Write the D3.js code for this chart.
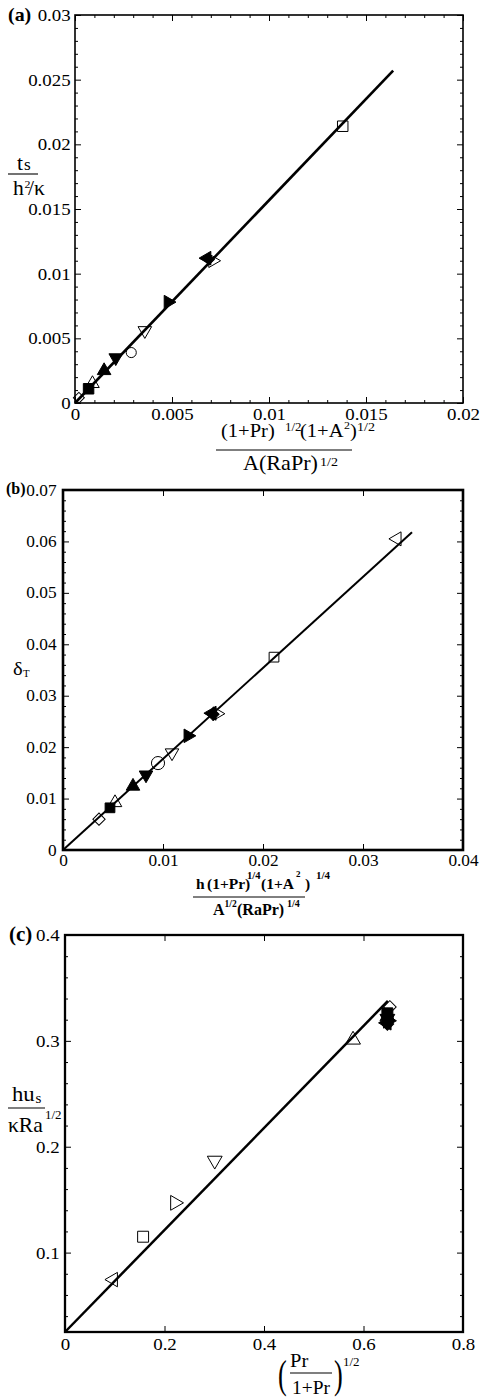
<!DOCTYPE html>
<html><head><meta charset="utf-8">
<script src="https://cdn.jsdelivr.net/npm/d3@7"></script>
<style>body{margin:0;background:#fff} svg{display:block}</style>
</head><body>
<svg id="c" width="480" height="1398"></svg>
<script>
// ---------- Panel (a) ----------
const aSymbols = ["D","Sf","U","Uf","Dnf","C","Dn","Rf","Lf","Df","R","S"];
const aX = [0.0002,0.0007,0.0009,0.0015,0.0021,0.0029,0.0036,0.0048,0.0068,0.0069,0.0071,0.0138];
const aY = [0.0004,0.0011,0.0015,0.0025,0.0035,0.0039,0.0056,0.0078,0.0112,0.0111,0.0110,0.0214];
const aFitX = [0, 0.0164];
const aFitY = [0, 0.0257];
const aXTicks = [0,0.005,0.01,0.015,0.02];
const aXTickLabels = ["0","0.005","0.01","0.015","0.02"];
const aYTicks = [0,0.005,0.01,0.015,0.02,0.025,0.03];
const aYTickLabels = ["0","0.005","0.01","0.015","0.02","0.025","0.03"];

// ---------- Panel (b) ----------
const bSymbols = ["D","Sf","U","Uf","Dnf","C","Dn","Rf","Lf","Df","R","S","L"];
const bX = [0.0036,0.0047,0.0052,0.0070,0.0083,0.0095,0.0109,0.0125,0.0149,0.0150,0.0154,0.0211,0.0334];
const bY = [0.0060,0.0082,0.0092,0.0124,0.0146,0.0169,0.0189,0.0222,0.0266,0.0264,0.0265,0.0375,0.0605];
const bFitX = [0, 0.0349];
const bFitY = [0, 0.0618];
const bXTicks = [0,0.01,0.02,0.03,0.04];
const bXTickLabels = ["0","0.01","0.02","0.03","0.04"];
const bYTicks = [0,0.01,0.02,0.03,0.04,0.05,0.06,0.07];
const bYTickLabels = ["0","0.01","0.02","0.03","0.04","0.05","0.06","0.07"];

// ---------- Panel (c) ----------
const cSymbols = ["L","S","R","Dn","U","D","Sf","Uf","Dnf","Rf","Lf","Df"];
const cX = [0.097,0.157,0.221,0.301,0.579,0.653,0.648,0.648,0.648,0.649,0.647,0.648];
const cY = [0.0745,0.115,0.147,0.187,0.301,0.332,0.326,0.323,0.321,0.319,0.317,0.316];
const cFitX = [0, 0.649];
const cFitY = [0.025, 0.3377];
const cXTicks = [0,0.2,0.4,0.6,0.8];
const cXTickLabels = ["0","0.2","0.4","0.6","0.8"];
const cYTicks = [0.1,0.2,0.3,0.4];
const cYTickLabels = ["0.1","0.2","0.3","0.4"];

const SERIF = "'Liberation Serif','Times New Roman',Times,serif";
const SX = 1.08;
const svg = d3.select("#c");

function txt(g, x, y, s, size, o = {}) {
  return g.append("text")
    .attr("transform", `translate(${x},${y}) scale(${o.sx ?? SX},${o.sy ?? 1})`)
    .attr("font-family", SERIF).attr("font-size", size)
    .attr("font-weight", o.bold ? "bold" : "normal")
    .attr("text-anchor", o.anchor || "start").attr("fill", "#000").text(s);
}
function hline(g, x1, x2, y, w = 1.1) {
  g.append("line").attr("x1", x1).attr("x2", x2).attr("y1", y).attr("y2", y)
    .attr("stroke", "#000").attr("stroke-width", w);
}

function markerShape(key, sizes) {
  const filled = key.length > 1 && key.endsWith("f");
  const base = filled ? key.slice(0, -1) : key;
  let type = d3.symbolTriangle, rot = 0;
  if (base === "S") type = d3.symbolSquare;
  else if (base === "D") { type = d3.symbolSquare; rot = 45; }
  else if (base === "C") type = d3.symbolCircle;
  else if (base === "Dn") rot = 180;
  else if (base === "L") rot = -90;
  else if (base === "R") rot = 90;
  return { d: d3.symbol().type(type).size(sizes[base])(), rot, filled };
}

function drawPanel(c) {
  const g = svg.append("g");
  const x = d3.scaleLinear().domain(c.xDomain).range([c.L, c.R]);
  const y = d3.scaleLinear().domain(c.yDomain).range([c.B, c.T]);
  const style = s => {
    s.select(".domain").remove();
    s.attr("font-family", SERIF).attr("font-size", c.fs);
    s.selectAll("line").attr("stroke", "#000").attr("stroke-width", c.tickW);
    s.selectAll("text").attr("fill", "#000").attr("transform", `scale(${SX},1)`);
  };
  const add = (axis, tr) => g.append("g").attr("transform", tr).call(axis).call(style);
  add(d3.axisBottom(x).tickValues(c.xTicks).tickSize(-6).tickPadding(c.xPad)
      .tickFormat((d, i) => c.xLabels[i]), `translate(0,${c.B})`);
  add(d3.axisLeft(y).tickValues(c.yTicks).tickSize(-6).tickPadding(c.yPad)
      .tickFormat((d, i) => c.yLabels[i]), `translate(${c.L},0)`);
  add(d3.axisTop(x).tickValues(c.xTicks).tickSize(-6).tickFormat(""), `translate(0,${c.T})`);
  add(d3.axisRight(y).tickValues(c.yTicks).tickSize(-6).tickFormat(""), `translate(${c.R},0)`);
  if (c.xMinor) {
    add(d3.axisBottom(x).tickValues(c.xMinor).tickSize(-3).tickFormat(""), `translate(0,${c.B})`);
    add(d3.axisTop(x).tickValues(c.xMinor).tickSize(-3).tickFormat(""), `translate(0,${c.T})`);
  }
  if (c.yMinor) {
    add(d3.axisLeft(y).tickValues(c.yMinor).tickSize(-3).tickFormat(""), `translate(${c.L},0)`);
    add(d3.axisRight(y).tickValues(c.yMinor).tickSize(-3).tickFormat(""), `translate(${c.R},0)`);
  }
  g.append("rect").attr("x", c.L).attr("y", c.T).attr("width", c.R - c.L).attr("height", c.B - c.T)
    .attr("fill", "none").attr("stroke", "#000").attr("stroke-width", c.frameW);
  const pts = c.fitX.map((v, i) => [v, c.fitY[i]]);
  g.append("path").attr("d", d3.line().x(d => x(d[0])).y(d => y(d[1]))(pts))
    .attr("fill", "none").attr("stroke", "#000").attr("stroke-width", c.lineW);
  c.sym.forEach((k, i) => {
    const m = markerShape(k, c.sizes);
    g.append("path").attr("d", m.d)
      .attr("transform", `translate(${x(c.xs[i])},${y(c.ys[i])}) rotate(${m.rot})`)
      .attr("fill", m.filled ? "#000" : "none").attr("stroke", "#000").attr("stroke-width", 1);
  });
  return g;
}
const minors = (lo, hi, step, majors) =>
  d3.range(Math.round((hi - lo) / step) + 1).map(i => +(lo + i * step).toFixed(6))
    .filter(v => !majors.some(m => Math.abs(m - v) < step / 10));

// ---- draw (a)
const gA = drawPanel({
  L: 75, R: 463, T: 15, B: 403, xDomain: [0, 0.02], yDomain: [0, 0.03],
  xTicks: aXTicks, xLabels: aXTickLabels, yTicks: aYTicks, yLabels: aYTickLabels,
  xMinor: minors(0, 0.02, 0.001, aXTicks), yMinor: minors(0, 0.03, 0.001, aYTicks),
  fs: 17.5, xPad: 5, yPad: 4, tickW: 1, frameW: 1.6, lineW: 2.6,
  fitX: aFitX, fitY: aFitY, sym: aSymbols, xs: aX, ys: aY,
  sizes: { D: 60, S: 110, U: 80, Dn: 80, L: 80, R: 80, C: 80 }
});
txt(gA, 8, 21, "(a)", 19, { bold: true, sx: 1.05 });
txt(gA, 17, 170, "t", 20); txt(gA, 24, 170, "s", 16);
hline(gA, 8, 38, 174);
txt(gA, 13, 195, "h", 20); txt(gA, 24.5, 188, "2", 11); txt(gA, 28, 195, "/κ", 20);
txt(gA, 221, 437, "(1+Pr)", 19); txt(gA, 285, 431, "1/2", 12);
txt(gA, 300, 437, "(1+A", 19); txt(gA, 344, 429, "2", 11); txt(gA, 350, 437, ")", 19);
txt(gA, 357, 431, "1/2", 13);
hline(gA, 216, 352, 450, 1.2);
txt(gA, 243, 470, "A(RaPr)", 20.5); txt(gA, 320, 466, "1/2", 13);

// ---- draw (b)
const gB = drawPanel({
  L: 63, R: 463, T: 490, B: 850, xDomain: [0, 0.04], yDomain: [0, 0.07],
  xTicks: bXTicks, xLabels: bXTickLabels, yTicks: bYTicks, yLabels: bYTickLabels,
  xMinor: null, yMinor: minors(0, 0.07, 0.002, bYTicks),
  fs: 16, xPad: 5, yPad: 6, tickW: 1, frameW: 2.6, lineW: 2,
  fitX: bFitX, fitY: bFitY, sym: bSymbols, xs: bX, ys: bY,
  sizes: { D: 75, S: 95, U: 80, Dn: 80, L: 85, R: 80, C: 135 }
});
txt(gB, 6, 494, "(b)", 16, { bold: true, sx: 1.0 });
txt(gB, 13, 675, "δ", 19); txt(gB, 23, 677, "T", 10);
const bo = { bold: true, sx: 1.0 };
txt(gB, 196, 889, "h", 15.5, bo); txt(gB, 207, 889, "(1+Pr)", 15.5, bo);
txt(gB, 247, 879, "1/4", 10.5, bo);
txt(gB, 261, 889, "(1+A", 15.5, bo); txt(gB, 296, 877, "2", 9, bo); txt(gB, 305, 889, ")", 15.5, bo);
txt(gB, 316, 879, "1/4", 11, bo);
hline(gB, 193, 305, 897, 1);
txt(gB, 213, 915, "A", 16, bo); txt(gB, 224.5, 907, "1/2", 9.5, bo);
txt(gB, 237, 915, "(RaPr)", 16, bo); txt(gB, 287, 907, "1/4", 10, bo);

// ---- draw (c)
const gC = drawPanel({
  L: 65, R: 463, T: 935, B: 1332, xDomain: [0, 0.8], yDomain: [0.025, 0.4],
  xTicks: cXTicks, xLabels: cXTickLabels, yTicks: cYTicks, yLabels: cYTickLabels,
  xMinor: null, yMinor: minors(0.04, 0.38, 0.02, cYTicks),
  fs: 17.5, xPad: 6, yPad: 5, tickW: 1, frameW: 2.3, lineW: 2.5,
  fitX: cFitX, fitY: cFitY, sym: cSymbols, xs: cX, ys: cY,
  sizes: { D: 80, S: 120, U: 95, Dn: 95, L: 90, R: 95, C: 100 }
});
txt(gC, 9, 941, "(c)", 20, { bold: true, sx: 1.05 });
txt(gC, 12, 1101, "hu", 21); txt(gC, 35.5, 1103, "s", 14);
hline(gC, 8, 45, 1108);
txt(gC, 8, 1132, "κRa", 20); txt(gC, 45, 1119, "1/2", 12);
txt(gC, 278, 1388, "(", 41, { sx: 0.64 }); txt(gC, 334, 1388, ")", 41, { sx: 0.64 });
txt(gC, 290, 1367, "Pr", 19);
hline(gC, 290, 332, 1373);
txt(gC, 292, 1394, "1+Pr", 18);
txt(gC, 343, 1366, "1/2", 12);
</script>
</body></html>
